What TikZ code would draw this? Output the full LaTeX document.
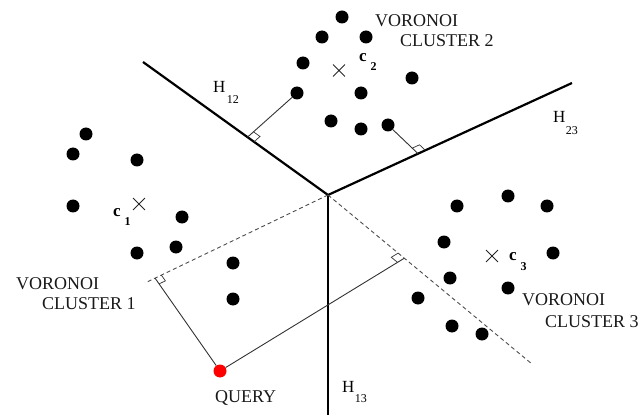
\documentclass[tikz,border=0pt]{standalone}
\usepackage{fontspec}
\setmainfont{Liberation Serif}
\usetikzlibrary{calc,shapes.misc}
\begin{document}
\begin{tikzpicture}[x=1pt,y=-1pt,
  datapt/.style={circle,fill=black,inner sep=0pt,minimum size=13pt},
  qpt/.style={circle,fill=red,inner sep=0pt,minimum size=13pt},
  crossmark/.style={cross out,draw=black!85,line width=0.9pt,inner sep=0pt,minimum size=11pt},
  hyper/.style={line width=2.2pt,black},
  thinline/.style={line width=0.9pt,black!80},
  dashline/.style={line width=0.9pt,black!70,dash pattern=on 4pt off 3pt},
  lbl/.style={font=\fontsize{18}{18}\selectfont,anchor=base west,inner sep=0pt,text=black!90},
  hlbl/.style={font=\fontsize{17}{17}\selectfont,anchor=base west,inner sep=0pt},
  clbl/.style={font=\fontsize{17}{17}\selectfont\bfseries,anchor=base west,inner sep=0pt},
  ramark/.style={line width=0.7pt,black!80}]
\useasboundingbox (0,0) rectangle (643,417);

% hyperplanes
\coordinate (J) at (328,195);
\coordinate (E12) at (143,62);
\coordinate (E23) at (572,83);
\coordinate (E13) at (328,415);
\draw[hyper] (E12) -- (J) -- (E23);
\draw[hyper] (J) -- (E13);

% dashed bisectors
\coordinate (D1) at (145,283);
\coordinate (D2) at (532,364);
\draw[dashline] (J) -- (D1);
\draw[dashline] (J) -- (D2);

% cluster 1 points
\node[datapt] (a1) at (86,134) {};
\node[datapt] (a2) at (73,154) {};
\node[datapt] (a3) at (137,160) {};
\node[datapt] (a4) at (73,206) {};
\node[datapt] (a5) at (182,217) {};
\node[datapt] (a6) at (137,253) {};
\node[datapt] (a7) at (176,247) {};
\node[datapt] (a8) at (233,263) {};
\node[datapt] (a9) at (233,299) {};
\node[crossmark] (x1) at (139,204) {};

% cluster 2 points
\node[datapt] (b1) at (342,17) {};
\node[datapt] (b2) at (322,37) {};
\node[datapt] (b3) at (366,37) {};
\node[datapt] (b4) at (303,63) {};
\node[datapt] (b5) at (412,78) {};
\node[datapt] (b6) at (297,93) {};
\node[datapt] (b7) at (361,93) {};
\node[datapt] (b8) at (331,121) {};
\node[datapt] (b9) at (361,129) {};
\node[datapt] (b10) at (388,125) {};
\node[crossmark] (x2) at (339,70.5) {};

% cluster 3 points
\node[datapt] (c1) at (508,196) {};
\node[datapt] (c2) at (457,206) {};
\node[datapt] (c3) at (547,206) {};
\node[datapt] (c4) at (444,242) {};
\node[datapt] (c5) at (553,253) {};
\node[datapt] (c6) at (450,278) {};
\node[datapt] (c7) at (508,288) {};
\node[datapt] (c8) at (418,298) {};
\node[datapt] (c9) at (452,326) {};
\node[datapt] (c10) at (482,334) {};
\node[crossmark] (x3) at (492,256) {};

% query
\node[qpt] (Q) at (220,371) {};

% perpendicular feet
\coordinate (F12) at ($(E12)!0.565!(J)$);
\coordinate (F23) at ($(J)!0.369!(E23)$);
\coordinate (F1) at ($(D1)!0.055!(J)$);
\coordinate (F2) at ($(J)!0.374!(D2)$);

\draw[thinline] (b6) -- (F12);
\draw[thinline] (b10) -- (F23);
\draw[thinline] (Q) -- (F1);
\draw[thinline] (Q) -- (F2);

% right-angle marks
\coordinate (m12a) at ($(F12)!8pt!(J)$);
\coordinate (m12b) at ($(F12)!8pt!(b6)$);
\draw[ramark] (m12a) -- ($(m12a)+(m12b)-(F12)$) -- (m12b);
\coordinate (m23a) at ($(F23)!8pt!(E23)$);
\coordinate (m23b) at ($(F23)!8pt!(b10)$);
\draw[ramark] (m23a) -- ($(m23a)+(m23b)-(F23)$) -- (m23b);
\coordinate (m1a) at ($(F1)!7pt!(J)$);
\coordinate (m1b) at ($(F1)!7pt!(Q)$);
\draw[ramark] (m1a) -- ($(m1a)+(m1b)-(F1)$) -- (m1b);
\coordinate (m2a) at ($(F2)!8pt!(J)$);
\coordinate (m2b) at ($(F2)!8pt!(Q)$);
\draw[ramark] (m2a) -- ($(m2a)+(m2b)-(F2)$) -- (m2b);

% labels
\node[lbl] (v2a) at (375,27) {VORONOI};
\node[lbl] (v2b) at (400,47) {CLUSTER 2};
\node[lbl] (v1a) at (16,289) {VORONOI};
\node[lbl] (v1b) at (42,309) {CLUSTER 1};
\node[lbl] (v3a) at (522,305) {VORONOI};
\node[lbl] (v3b) at (545,327) {CLUSTER 3};
\node[lbl] (ql) at (215,402) {QUERY};

\node[hlbl] (h12) at (213,93) {H\kern1.5pt\raisebox{-11pt}{\fontsize{12}{12}\selectfont 12}};
\node[hlbl] (h23) at (553,123) {H\kern0.5pt\raisebox{-12pt}{\fontsize{12}{12}\selectfont 23}};
\node[hlbl] (h13) at (342,392) {H\kern0.5pt\raisebox{-10pt}{\fontsize{12}{12}\selectfont 13}};

\node[clbl] (lc1) at (113,217) {c\kern4pt\raisebox{-9pt}{\fontsize{12}{12}\selectfont 1}};
\node[clbl] (lc2) at (359,62) {c\kern4pt\raisebox{-9pt}{\fontsize{12}{12}\selectfont 2}};
\node[clbl] (lc3) at (509,260) {c\kern4pt\raisebox{-10pt}{\fontsize{12}{12}\selectfont 3}};
\end{tikzpicture}
\end{document}
